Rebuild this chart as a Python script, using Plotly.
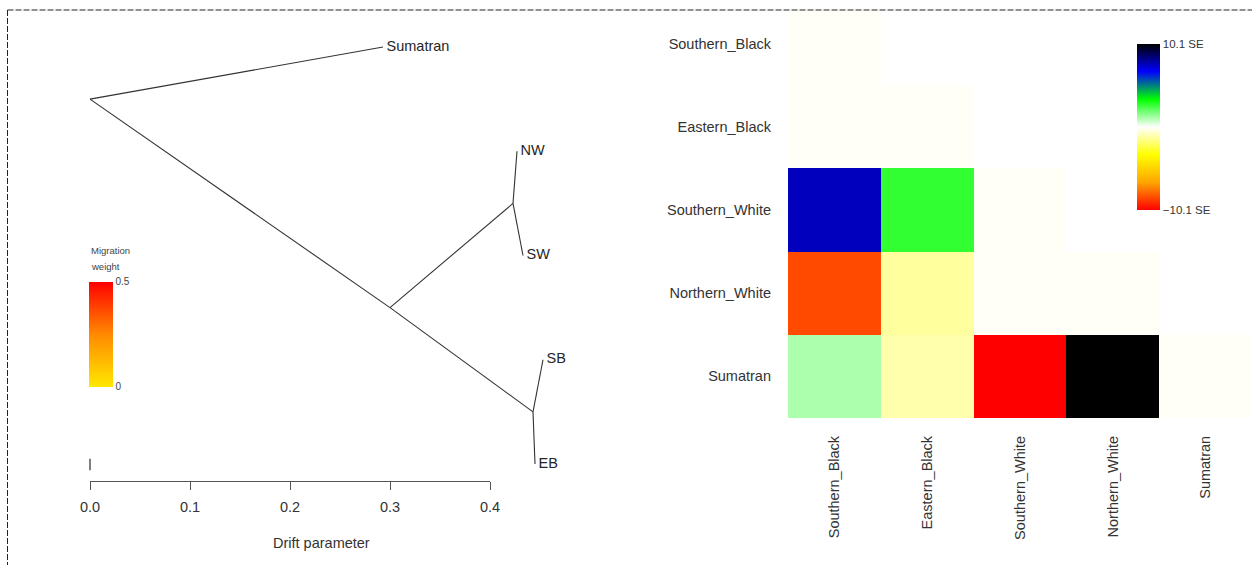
import plotly.graph_objects as go

W, H = 1252, 565
FONT = "Liberation Sans, Arial, Helvetica, sans-serif"
INK = "#262626"

# ---------------- admixture tree (x = drift, y = tip slot) ----------------
node_names = ["root", "Sumatran", "n_rhino", "n_white", "NW", "SW", "n_black", "SB", "EB"]
node_drift = [0.000, 0.293, 0.300, 0.423, 0.427, 0.433, 0.443, 0.453, 0.445]
node_slot = [1.5, 1.0, 3.5, 2.5, 2.0, 3.0, 4.5, 4.0, 5.0]
node_parent = [None, 0, 0, 2, 3, 3, 2, 6, 6]

tip_nodes = [1, 4, 5, 7, 8]
tip_text = ["Sumatran", "NW", "SW", "SB", "EB"]

drift_ticks = [0.0, 0.1, 0.2, 0.3, 0.4]
drift_tick_text = ["0.0", "0.1", "0.2", "0.3", "0.4"]

# scale mark (10 s.e. of drift) drawn at the left of the tree
se_mark_drift = 0.0
se_mark_slot = [4.95, 5.06]

mig_weight_range = [0.0, 0.5]

# ---------------- residual matrix (lower triangle, in SE units) ----------------
pops = ["Southern_Black", "Eastern_Black", "Southern_White", "Northern_White", "Sumatran"]
resid_southern_black = [-0.1]
resid_eastern_black = [-0.1, -0.1]
resid_southern_white = [7.6, 2.7, -0.1]
resid_northern_white = [-8.6, -1.3, -0.1, -0.1]
resid_sumatran = [1.1, -1.1, -10.1, 10.1, -0.1]
se_limit = 10.1


def fx(px):
    return px / W


def fy(px):
    return (H - px) / H


fig = go.Figure()

# tree branches
for i, p in enumerate(node_parent):
    if p is None:
        continue
    fig.add_trace(go.Scatter(
        x=[node_drift[p], node_drift[i]], y=[node_slot[p], node_slot[i]],
        mode="lines", line=dict(color="#333333", width=1.1),
        hoverinfo="skip", showlegend=False, xaxis="x", yaxis="y"))

# tip labels (invisible markers keep the text just clear of the tips)
fig.add_trace(go.Scatter(
    x=[node_drift[i] for i in tip_nodes], y=[node_slot[i] for i in tip_nodes],
    mode="markers+text", text=tip_text, textposition="middle right",
    marker=dict(size=4, opacity=0),
    textfont=dict(family=FONT, size=14.5, color=INK),
    hoverinfo="skip", showlegend=False, xaxis="x", yaxis="y", cliponaxis=False))

# scale mark
fig.add_trace(go.Scatter(
    x=[se_mark_drift, se_mark_drift], y=se_mark_slot, mode="lines",
    line=dict(color="#555555", width=1.5), hoverinfo="skip",
    showlegend=False, xaxis="x", yaxis="y"))

# drift axis subplot carrying the migration-weight colour key
fig.add_trace(go.Scatter(
    x=[drift_ticks[0], drift_ticks[-1]], y=[-1, -1], mode="markers",
    marker=dict(
        color=mig_weight_range, cmin=mig_weight_range[0], cmax=mig_weight_range[1],
        colorscale=[[0, "#FFE800"], [0.5, "#FF8A00"], [1, "#FF0000"]],
        opacity=0, showscale=True,
        colorbar=dict(
            x=fx(89), xanchor="left", y=fy(334), yanchor="middle",
            len=105, lenmode="pixels", thickness=24, thicknessmode="pixels",
            xpad=0, ypad=0, outlinewidth=0, ticks="",
            tickvals=mig_weight_range, ticktext=["0", "0.5"],
            tickfont=dict(family=FONT, size=10, color="#444444"))),
    hoverinfo="skip", showlegend=False, xaxis="x3", yaxis="y3"))

# residual heatmap
rows = [resid_southern_black, resid_eastern_black, resid_southern_white,
        resid_northern_white, resid_sumatran]
z = [r + [None] * (len(pops) - len(r)) for r in rows]

fig.add_trace(go.Heatmap(
    z=z, x=pops, y=pops, zmin=-se_limit, zmax=se_limit,
    colorscale=[[0, "#FF0000"], [1 / 6, "#FFA500"], [2 / 6, "#FFFF00"],
                [0.5, "#FFFFFF"], [4 / 6, "#00FF00"], [5 / 6, "#0000FF"],
                [1, "#000000"]],
    hoverongaps=False, xaxis="x2", yaxis="y2",
    colorbar=dict(
        x=fx(1137), xanchor="left", y=fy(127), yanchor="middle",
        len=166, lenmode="pixels", thickness=23, thicknessmode="pixels",
        xpad=0, ypad=0, outlinewidth=0, ticks="",
        tickvals=[se_limit, -se_limit],
        ticktext=[f"{se_limit} SE", f"\u2212{se_limit} SE"],
        tickfont=dict(family=FONT, size=11.5, color="#333333"))))

fig.update_layout(
    width=W, height=H, margin=dict(l=0, r=0, t=0, b=0),
    template="none", paper_bgcolor="white", plot_bgcolor="rgba(0,0,0,0)",
    showlegend=False,
    font=dict(family=FONT, color=INK),
    xaxis=dict(domain=[fx(10), fx(632)], range=[-0.08, 0.542], visible=False,
               anchor="y"),
    yaxis=dict(domain=[fy(481), fy(20)], range=[5.163, 0.741], visible=False,
               anchor="x"),
    xaxis3=dict(domain=[fx(90), fx(490)], range=[0, 0.4], anchor="y3",
                showline=True, linecolor="#555555", linewidth=1,
                ticks="outside", ticklen=8, tickcolor="#555555", tickwidth=1,
                tickvals=drift_ticks, ticktext=drift_tick_text,
                ticklabelstandoff=5,
                tickfont=dict(family=FONT, size=14.5, color="#333333"),
                showgrid=False, zeroline=False),
    yaxis3=dict(domain=[fy(481), fy(300)], range=[0, 1], visible=False,
                anchor="x3"),
    xaxis2=dict(domain=[fx(788), 1.0], anchor="y2", tickangle=-90,
                showgrid=False, zeroline=False, showline=False, ticks="",
                ticklabelstandoff=14,
                tickfont=dict(family=FONT, size=14.5, color="#333333")),
    yaxis2=dict(domain=[fy(418), fy(2)], anchor="x2", autorange="reversed",
                showgrid=False, zeroline=False, showline=False, ticks="",
                ticklabelstandoff=16,
                tickfont=dict(family=FONT, size=14.5, color="#333333")),
    annotations=[
        dict(text="Drift parameter", x=fx(321), y=fy(543), xref="paper",
             yref="paper", showarrow=False, xanchor="center", yanchor="middle",
             font=dict(family=FONT, size=14.5, color="#333333")),
        dict(text="Migration", x=fx(89), y=fy(250), xref="paper", yref="paper",
             showarrow=False, xanchor="left", yanchor="middle",
             font=dict(family=FONT, size=9.5, color="#444444")),
        dict(text="weight", x=fx(89), y=fy(266), xref="paper", yref="paper",
             showarrow=False, xanchor="left", yanchor="middle",
             font=dict(family=FONT, size=9.5, color="#444444")),
    ],
    shapes=[
        dict(type="rect", xref="paper", yref="paper", x0=fx(9), x1=1.0,
             y0=fy(11), y1=1.0, fillcolor="white", line=dict(width=0),
             layer="above"),
        dict(type="line", xref="paper", yref="paper", x0=fx(7.5), x1=1.0,
             y0=fy(10), y1=fy(10), line=dict(color="#222222", width=1, dash="6px,2px"),
             layer="above"),
        dict(type="line", xref="paper", yref="paper", x0=fx(7.5), x1=fx(7.5),
             y0=fy(10), y1=0, line=dict(color="#222222", width=1, dash="6px,2px"),
             layer="above"),
    ],
)

fig.write_html("out.html")
